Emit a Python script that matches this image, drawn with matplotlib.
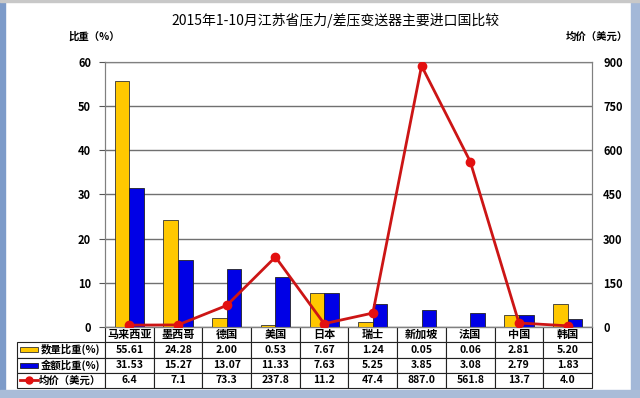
import matplotlib
matplotlib.use("Agg")
import matplotlib.pyplot as plt
from matplotlib.patches import Rectangle
from matplotlib.lines import Line2D
from matplotlib.table import Table
import numpy as np

plt.rcParams['font.family'] = ['Noto Sans CJK SC', 'DejaVu Sans']

categories = ['马来西亚', '墨西哥', '德国', '美国', '日本', '瑞士', '新加坡', '法国', '中国', '韩国']
qty_share = [55.61, 24.28, 2.00, 0.53, 7.67, 1.24, 0.05, 0.06, 2.81, 5.20]
amt_share = [31.53, 15.27, 13.07, 11.33, 7.63, 5.25, 3.85, 3.08, 2.79, 1.83]
avg_price = [6.4, 7.1, 73.3, 237.8, 11.2, 47.4, 887.0, 561.8, 13.7, 4.0]
row_labels = ['数量比重(%)', '金额比重(%)', '均价（美元）']

W, H = 640, 398
fig = plt.figure(figsize=(6.4, 3.98), dpi=100)

# window frame around the chart
fig.patches.append(Rectangle((0, 0), 5 / W, 1, transform=fig.transFigure, color='#7d9bc9', zorder=0))
fig.patches.append(Rectangle((631 / W, 0), 9 / W, 1, transform=fig.transFigure, color='#a3b8d8', zorder=0))
fig.patches.append(Rectangle((0, 0), 1, 8 / H, transform=fig.transFigure, color='#a9bcd8', zorder=0))
fig.patches.append(Rectangle((0, 1 - 2 / H), 1, 2 / H, transform=fig.transFigure, color='#c8c8c8', zorder=0))

px_l, px_r, px_t, px_b = 105, 592, 62, 327
ax = fig.add_axes([px_l / W, 1 - px_b / H, (px_r - px_l) / W, (px_b - px_t) / H])
ax2 = ax.twinx()

x = np.arange(len(categories))
bw = 0.3
ax.bar(x - bw / 2, qty_share, bw, color='#FFC800', edgecolor='#333333', linewidth=0.6, zorder=3)
ax.bar(x + bw / 2, amt_share, bw, color='#0000E6', edgecolor='#222222', linewidth=0.6, zorder=3)
ax.set_xlim(-0.5, len(categories) - 0.5)
ax.set_ylim(0, 60)
ax.set_yticks(range(0, 61, 10))
ax.set_xticks([])
ax.grid(axis='y', color='#707070', linewidth=1.0, zorder=0)
ax.tick_params(axis='y', length=4, width=0.8, color='#555555', labelsize=8, pad=6)
for lab in ax.get_yticklabels():
    lab.set_fontweight('bold')
for s in ax.spines.values():
    s.set_color('#808080')

ax2.plot(x, avg_price, color='#CC1515', linewidth=2, marker='o', markersize=6,
         markerfacecolor='#E31010', markeredgecolor='#E31010', zorder=5)
ax2.set_ylim(0, 900)
ax2.set_yticks(range(0, 901, 150))
ax2.tick_params(axis='y', length=0, labelsize=8, pad=8)
for lab in ax2.get_yticklabels():
    lab.set_fontweight('bold')
for s in ax2.spines.values():
    s.set_color('#808080')

# data table under the chart (first column holds the row labels)
cell_text = [[f'{v:.2f}' for v in qty_share],
             [f'{v:.2f}' for v in amt_share],
             [f'{v:.1f}' for v in avg_price]]
lab_w = (px_l - 17) / (px_r - px_l)
tab_h = (388 - px_b) / (px_b - px_t)
row_h = tab_h / 4
tbl = Table(ax, bbox=[-lab_w, -tab_h, 1 + lab_w, tab_h])
tbl.auto_set_font_size(False)
corner = tbl.add_cell(0, 0, lab_w, row_h, text='')
corner.visible_edges = ''
for j, name in enumerate(categories):
    tbl.add_cell(0, j + 1, 0.1, row_h, text=name, loc='center')
for i, lab in enumerate(row_labels):
    tbl.add_cell(i + 1, 0, lab_w, row_h, text=lab, loc='right')
    for j, val in enumerate(cell_text[i]):
        tbl.add_cell(i + 1, j + 1, 0.1, row_h, text=val, loc='center')
for (r, c), cell in tbl.get_celld().items():
    cell.set_linewidth(0.8)
    cell.set_edgecolor('#222222')
    cell.PAD = 0.05
    txt = cell.get_text()
    txt.set_fontsize(8 if r == 0 else 7.5)
    txt.set_fontweight('bold')
ax.add_table(tbl)

# legend keys inside row label cells
kx0 = (20 - px_l) / (px_r - px_l)
kx1 = (38 - px_l) / (px_r - px_l)
yc = [-row_h * 1.5, -row_h * 2.5, -row_h * 3.5]
kh = 0.018
ax.add_patch(Rectangle((kx0, yc[0] - kh / 2), kx1 - kx0, kh, transform=ax.transAxes,
                       facecolor='#FFC800', edgecolor='#333333', linewidth=0.6, clip_on=False))
ax.add_patch(Rectangle((kx0, yc[1] - kh / 2), kx1 - kx0, kh, transform=ax.transAxes,
                       facecolor='#0000E6', edgecolor='#222222', linewidth=0.6, clip_on=False))
ax.add_line(Line2D([kx0, kx1], [yc[2], yc[2]], transform=ax.transAxes, color='#CC1515',
                   linewidth=2, clip_on=False))
ax.add_line(Line2D([(kx0 + kx1) / 2], [yc[2]], transform=ax.transAxes, color='#E31010',
                   marker='o', markersize=5, clip_on=False))

fig.text(335 / W, 1 - 20 / H, '2015年1-10月江苏省压力/差压变送器主要进口国比较',
         ha='center', va='center', fontsize=10)
fig.text(94 / W, 1 - 37 / H, '比重（%）', ha='center', va='center', fontsize=7.5, fontweight='bold')
fig.text(597 / W, 1 - 37 / H, '均价（美元）', ha='center', va='center', fontsize=7.5, fontweight='bold')

fig.savefig('out.png', dpi=100)
